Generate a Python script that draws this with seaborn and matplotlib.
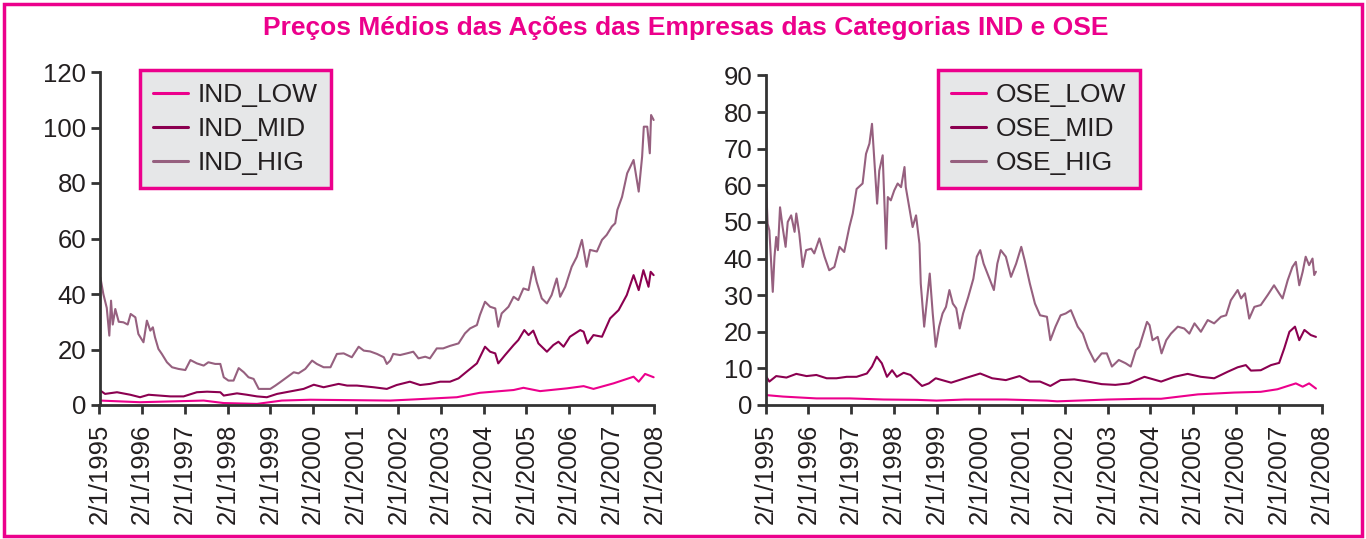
import pandas as pd
import matplotlib.pyplot as plt
import seaborn as sns
from matplotlib.patches import Rectangle

# Ajustes visuais
sns.set_theme(style="white")
plt.rcParams['font.family'] = ['Liberation Sans', 'DejaVu Sans']

ROSA = '#EC008C'
CORES = {'LOW': '#EC008C', 'MID': '#8B0050', 'HIG': '#96607F'}

anos = list(range(1995, 2009))
rotulos_x = [f'2/1/{a}' for a in anos]

# ---- Categoria IND (tempo em anos decimais, preço médio) ----
ind_low_t = [1995.02, 1995.95, 1997.44, 1997.91, 1998.69, 1999.27, 1999.94, 2000.56,
             2001.81, 2002.35, 2003.37, 2003.91, 2004.70, 2004.93, 2005.32, 2005.95,
             2006.34, 2006.57, 2007.04, 2007.51, 2007.63, 2007.78, 2007.98]
ind_low_v = [1.6, 1.0, 1.6, 0.7, 0.4, 1.6, 1.9, 1.8,
             1.6, 2.0, 2.8, 4.4, 5.4, 6.2, 5.0, 6.0,
             6.8, 5.8, 7.8, 10.2, 8.4, 11.2, 10.0]

ind_mid_t = [1995.02, 1995.13, 1995.41, 1995.72, 1995.95, 1996.15, 1996.66, 1996.97,
             1997.28, 1997.52, 1997.83, 1997.91, 1998.22, 1998.45, 1998.69, 1998.92,
             1999.16, 1999.47, 1999.78, 2000.02, 2000.25, 2000.60, 2000.80, 2001.03,
             2001.42, 2001.73, 2001.96, 2002.27, 2002.51, 2002.74, 2002.98, 2003.21,
             2003.41, 2003.60, 2003.84, 2004.03, 2004.15, 2004.27, 2004.34, 2004.50,
             2004.70, 2004.81, 2004.95, 2005.05, 2005.16, 2005.28, 2005.48, 2005.63,
             2005.75, 2005.87, 2006.02, 2006.26, 2006.34, 2006.43, 2006.57, 2006.77,
             2006.96, 2007.16, 2007.35, 2007.51, 2007.63, 2007.74, 2007.86, 2007.91,
             2007.98]
ind_mid_v = [5.2, 4.0, 4.6, 3.7, 2.8, 3.7, 3.1, 3.1,
             4.6, 4.8, 4.6, 3.4, 4.2, 3.7, 3.1, 2.8,
             4.0, 4.9, 5.8, 7.3, 6.4, 7.6, 7.0, 7.0,
             6.4, 5.8, 7.2, 8.4, 7.2, 7.6, 8.4, 8.4,
             9.6, 12.0, 15.0, 21.0, 19.2, 18.6, 15.0, 18.0,
             21.6, 23.4, 27.0, 25.2, 26.8, 22.2, 19.2, 21.6,
             22.8, 21.0, 24.6, 27.0, 26.4, 22.2, 25.2, 24.6,
             31.2, 34.2, 39.6, 46.8, 41.4, 48.6, 42.6, 48.0,
             46.8]

ind_hig_t = [1995.02, 1995.09, 1995.17, 1995.23, 1995.27, 1995.31, 1995.37, 1995.45,
             1995.56, 1995.66, 1995.73, 1995.84, 1995.91, 1996.03, 1996.11, 1996.19,
             1996.25, 1996.30, 1996.38, 1996.46, 1996.58, 1996.70, 1996.85, 1997.01,
             1997.13, 1997.28, 1997.44, 1997.55, 1997.71, 1997.83, 1997.91, 1998.02,
             1998.14, 1998.26, 1998.38, 1998.49, 1998.61, 1998.73, 1998.84, 1999.00,
             1999.12, 1999.23, 1999.39, 1999.55, 1999.66, 1999.82, 1999.98, 2000.09,
             2000.25, 2000.41, 2000.56, 2000.72, 2000.91, 2001.07, 2001.19, 2001.34,
             2001.50, 2001.66, 2001.73, 2001.81, 2001.88, 2002.04, 2002.20, 2002.35,
             2002.47, 2002.63, 2002.74, 2002.90, 2003.05, 2003.21, 2003.41, 2003.56,
             2003.68, 2003.84, 2003.91, 2004.03, 2004.15, 2004.27, 2004.34, 2004.42,
             2004.58, 2004.70, 2004.81, 2004.93, 2005.05, 2005.16, 2005.24, 2005.36,
             2005.48, 2005.59, 2005.71, 2005.79, 2005.91, 2006.06, 2006.18, 2006.30,
             2006.41, 2006.49, 2006.65, 2006.77, 2006.88, 2007.00, 2007.08, 2007.13,
             2007.24, 2007.36, 2007.51, 2007.63, 2007.71, 2007.75, 2007.83, 2007.89,
             2007.92, 2007.98]
ind_hig_v = [46.0, 40.0, 35.0, 25.0, 37.6, 29.0, 34.6, 30.0,
             29.8, 29.0, 32.8, 31.6, 25.6, 22.6, 30.4, 26.8,
             28.0, 24.4, 20.2, 18.4, 15.4, 13.6, 13.0, 12.6,
             16.2, 15.0, 14.2, 15.4, 14.8, 14.8, 10.0, 8.8,
             8.8, 13.3, 11.8, 10.0, 9.4, 5.8, 5.8, 5.8,
             7.0, 8.2, 10.0, 11.8, 11.4, 13.0, 16.0, 14.8,
             13.6, 13.6, 18.4, 18.6, 17.2, 21.0, 19.6, 19.3,
             18.4, 17.2, 14.8, 16.0, 18.4, 18.0, 18.6, 19.2,
             16.8, 17.4, 16.8, 20.4, 20.4, 21.3, 22.2, 25.8,
             27.6, 28.8, 32.4, 37.2, 35.4, 34.8, 28.2, 33.0,
             35.4, 39.0, 37.8, 42.0, 41.4, 49.8, 44.4, 38.4,
             36.6, 39.6, 45.6, 39.0, 42.6, 49.8, 53.4, 59.5,
             49.8, 55.9, 55.3, 59.5, 61.3, 64.3, 65.5, 70.3,
             75.0, 83.5, 88.3, 76.9, 89.5, 100.3, 100.3, 90.7,
             104.5, 102.7]

# ---- Categoria OSE ----
ose_low_t = [1995.02, 1995.41, 1996.19, 1996.97, 1997.76, 1998.55, 1999.00, 1999.66,
             2000.62, 2001.58, 2001.82, 2003.02, 2003.82, 2004.25, 2005.11, 2005.96,
             2006.58, 2006.97, 2007.40, 2007.56, 2007.71, 2007.87]
ose_low_v = [2.7, 2.3, 1.8, 1.8, 1.5, 1.4, 1.2, 1.5,
             1.5, 1.2, 1.0, 1.5, 1.7, 1.7, 2.9, 3.4,
             3.6, 4.3, 5.9, 5.0, 5.9, 4.5]

ose_mid_t = [1995.02, 1995.09, 1995.25, 1995.49, 1995.72, 1995.96, 1996.19, 1996.43,
             1996.66, 1996.90, 1997.13, 1997.37, 1997.49, 1997.60, 1997.72, 1997.84,
             1997.96, 1998.07, 1998.23, 1998.39, 1998.55, 1998.66, 1998.82, 1998.98,
             1999.34, 1999.66, 2000.02, 2000.30, 2000.62, 2000.94, 2001.18, 2001.42,
             2001.66, 2001.90, 2002.22, 2002.54, 2002.86, 2003.18, 2003.50, 2003.86,
             2004.25, 2004.56, 2004.87, 2005.18, 2005.49, 2005.81, 2006.04, 2006.23,
             2006.35, 2006.58, 2006.82, 2007.01, 2007.13, 2007.25, 2007.38, 2007.48,
             2007.60, 2007.75, 2007.87]
ose_mid_v = [7.7, 6.4, 7.9, 7.5, 8.5, 7.9, 8.2, 7.3,
             7.3, 7.7, 7.7, 8.6, 10.5, 13.2, 11.4, 7.7,
             9.5, 7.7, 8.8, 8.2, 6.4, 5.2, 5.9, 7.3,
             6.1, 7.3, 8.6, 7.3, 6.8, 7.9, 6.4, 6.4,
             5.2, 6.8, 7.0, 6.4, 5.7, 5.5, 5.9, 7.7,
             6.4, 7.7, 8.5, 7.7, 7.3, 9.1, 10.3, 10.9,
             9.4, 9.5, 10.9, 11.5, 15.5, 20.0, 21.4, 17.7,
             20.5, 19.1, 18.6]

ose_hig_t = [1995.02, 1995.05, 1995.09, 1995.13, 1995.17, 1995.21, 1995.25, 1995.29,
             1995.34, 1995.40, 1995.47, 1995.52, 1995.60, 1995.68, 1995.72, 1995.79,
             1995.87, 1995.95, 1996.07, 1996.14, 1996.26, 1996.38, 1996.49, 1996.61,
             1996.73, 1996.84, 1996.96, 1997.04, 1997.13, 1997.27, 1997.35, 1997.43,
             1997.49, 1997.54, 1997.61, 1997.66, 1997.74, 1997.82, 1997.86, 1997.93,
             1998.01, 1998.09, 1998.17, 1998.25, 1998.28, 1998.36, 1998.44, 1998.52,
             1998.60, 1998.63, 1998.71, 1998.79, 1998.84, 1998.91, 1998.98, 1999.06,
             1999.14, 1999.22, 1999.30, 1999.38, 1999.46, 1999.54, 1999.62, 1999.74,
             1999.86, 1999.94, 2000.02, 2000.10, 2000.22, 2000.34, 2000.42, 2000.50,
             2000.62, 2000.74, 2000.86, 2000.98, 2001.06, 2001.18, 2001.30, 2001.42,
             2001.58, 2001.66, 2001.78, 2001.90, 2002.02, 2002.14, 2002.30, 2002.42,
             2002.54, 2002.70, 2002.86, 2002.98, 2003.10, 2003.26, 2003.42, 2003.54,
             2003.66, 2003.74, 2003.86, 2003.92, 2003.98, 2004.05, 2004.17, 2004.26,
             2004.37, 2004.48, 2004.64, 2004.79, 2004.91, 2005.03, 2005.18, 2005.34,
             2005.49, 2005.65, 2005.77, 2005.88, 2006.04, 2006.12, 2006.21, 2006.31,
             2006.43, 2006.58, 2006.74, 2006.89, 2007.01, 2007.09, 2007.21, 2007.32,
             2007.40, 2007.48, 2007.56, 2007.63, 2007.71, 2007.79, 2007.83, 2007.87]
ose_hig_v = [58.2, 49.5, 47.7, 39.5, 30.9, 40.5, 45.9, 42.3,
             54.0, 48.6, 43.2, 50.0, 51.8, 47.3, 52.3, 46.8,
             37.7, 42.3, 42.7, 41.4, 45.5, 40.5, 36.8, 37.7,
             43.2, 41.8, 48.6, 52.3, 59.0, 60.5, 68.6, 71.4,
             76.8, 67.7, 55.0, 64.0, 68.2, 42.7, 56.8, 55.9,
             58.6, 60.5, 59.5, 65.0, 59.5, 54.0, 48.6, 51.8,
             44.0, 33.2, 21.4, 30.5, 35.9, 25.0, 15.9, 21.4,
             25.0, 26.8, 31.4, 27.7, 26.4, 20.9, 25.0, 29.5,
             34.5, 40.5, 42.3, 38.6, 35.0, 31.4, 38.6, 42.3,
             40.5, 35.0, 38.6, 43.2, 39.5, 33.2, 27.7, 24.5,
             24.1, 17.7, 21.4, 24.5, 25.0, 25.9, 21.4, 19.5,
             15.5, 11.8, 14.1, 14.1, 10.5, 12.3, 11.4, 10.5,
             15.0, 15.9, 20.5, 22.7, 21.8, 17.7, 18.6, 14.1,
             17.7, 19.5, 21.4, 20.9, 19.5, 22.3, 20.0, 23.2,
             22.3, 24.1, 24.5, 28.6, 31.4, 29.1, 30.5, 23.6,
             26.8, 27.3, 30.0, 32.7, 30.5, 29.1, 34.1, 37.7,
             39.1, 32.7, 36.4, 40.5, 38.2, 40.0, 35.5, 36.4]


def montar(prefixo, series):
    partes = []
    for nome, (t, v) in series.items():
        partes.append(pd.DataFrame({'Data': t, 'Preco': v, 'Serie': f'{prefixo}_{nome}'}))
    return pd.concat(partes, ignore_index=True)


def desenhar(ax, df, prefixo, ymax, ystep, leg_xy):
    nomes = ['LOW', 'MID', 'HIG']
    ordem = [f'{prefixo}_{n}' for n in nomes]
    paleta = {f'{prefixo}_{n}': CORES[n] for n in nomes}
    sns.lineplot(data=df, x='Data', y='Preco', hue='Serie', hue_order=ordem,
                 palette=paleta, estimator=None, linewidth=1.5, ax=ax)
    ax.set_xlim(1995, 2008)
    ax.set_ylim(0, ymax)
    ax.set_xticks(anos)
    ax.set_xticklabels(rotulos_x, rotation=90)
    ax.set_yticks(range(0, ymax + 1, ystep))
    ax.set_xlabel('')
    ax.set_ylabel('')
    for lado in ['top', 'right']:
        ax.spines[lado].set_visible(False)
    for lado in ['left', 'bottom']:
        ax.spines[lado].set_color('#333333')
        ax.spines[lado].set_linewidth(2)
    ax.tick_params(axis='both', direction='out', length=6.5, width=2, color='#333333',
                   labelsize=18.5, labelcolor='#231F20', left=True, bottom=True)
    ax.tick_params(axis='x', pad=7)
    ax.tick_params(axis='y', pad=3)

    leg = ax.legend(loc='upper left', bbox_to_anchor=leg_xy, bbox_transform=ax.figure.transFigure,
                    fontsize=19, frameon=True, fancybox=False, borderpad=0.5,
                    handlelength=1.3, handletextpad=0.4, labelspacing=0.38, borderaxespad=0)
    frame = leg.get_frame()
    frame.set_facecolor('#E6E7E8')
    frame.set_edgecolor(ROSA)
    frame.set_linewidth(2.5)
    frame.set_alpha(1)
    for linha in leg.get_lines():
        linha.set_linewidth(2.2)
    for texto in leg.get_texts():
        texto.set_color('#231F20')


df_ind = montar('IND', {'LOW': (ind_low_t, ind_low_v),
                        'MID': (ind_mid_t, ind_mid_v),
                        'HIG': (ind_hig_t, ind_hig_v)})
df_ose = montar('OSE', {'LOW': (ose_low_t, ose_low_v),
                        'MID': (ose_mid_t, ose_mid_v),
                        'HIG': (ose_hig_t, ose_hig_v)})

W, H = 1366, 539
fig = plt.figure(figsize=(W / 100, H / 100), dpi=100)
fig.patch.set_facecolor('white')

ax1 = fig.add_axes([99.5 / W, 1 - 405 / H, 555 / W, 333 / H])
ax2 = fig.add_axes([765.5 / W, 1 - 405 / H, 556 / W, 329.5 / H])

desenhar(ax1, df_ind, 'IND', 120, 20, (140 / W, 1 - 70 / H))
desenhar(ax2, df_ose, 'OSE', 90, 10, (938 / W, 1 - 70 / H))

fig.text(686 / W, 1 - 28 / H, 'Preços Médios das Ações das Empresas das Categorias IND e OSE',
         ha='center', va='center', fontsize=19, fontweight='bold', color=ROSA)

fig.patches.append(Rectangle((4 / W, 3 / H), 1358 / W, 532 / H, transform=fig.transFigure,
                             fill=False, edgecolor=ROSA, linewidth=2.5))

fig.savefig('out.png', dpi=100)
